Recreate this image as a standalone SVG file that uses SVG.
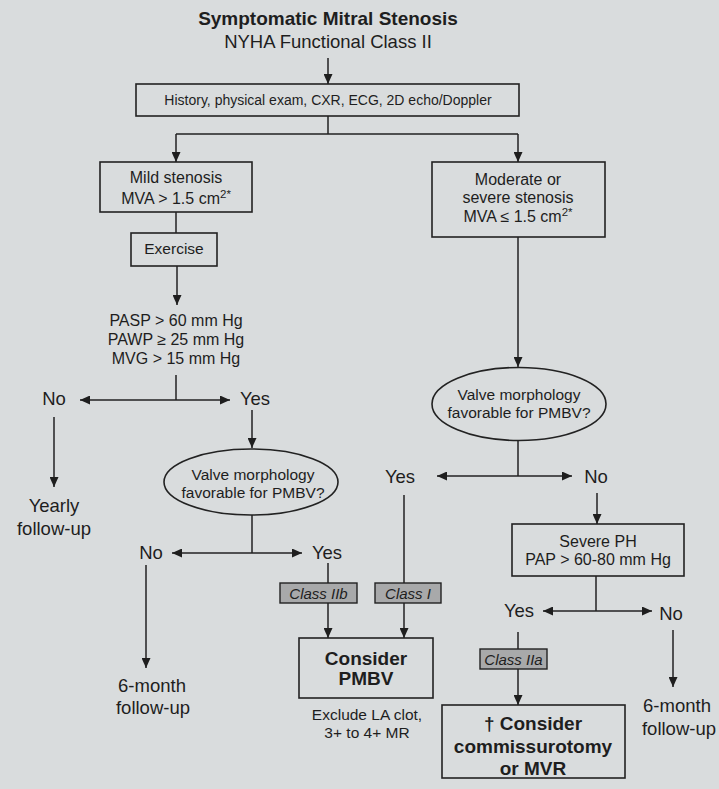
<svg xmlns="http://www.w3.org/2000/svg" width="719" height="789" viewBox="0 0 719 789">
  <defs>
    <marker id="arrow" markerUnits="userSpaceOnUse" markerWidth="10" markerHeight="9" refX="10" refY="4.5" orient="auto">
      <path d="M0,0 L10,4.5 L0,9 z" fill="#1e1e1e"/>
    </marker>
    <style>
      text { font-family: "Liberation Sans", Arial, sans-serif; fill: #1e1e1e; text-anchor: middle; }
      .title { font-size: 19px; font-weight: bold; }
      .sub { font-size: 18.5px; }
      .box { fill: none; stroke: #222; stroke-width: 1.6; }
      .cls { fill: #a8a9aa; stroke: #222; stroke-width: 1.4; }
      .ell { fill: none; stroke: #222; stroke-width: 1.6; }
      .t14 { font-size: 14px; }
      .t15 { font-size: 15.5px; }
      .t16 { font-size: 16px; }
      .lbl { font-size: 18.5px; }
      .big { font-size: 19px; font-weight: bold; }
      .it { font-size: 15px; font-style: italic; }
      .sup { font-size: 11.5px; }
      .conn path { fill: none; stroke: #222; stroke-width: 1.5; }
      .conn path.a { marker-end: url(#arrow); }
    </style>
  </defs>

  <rect width="719" height="789" fill="#d9dcdd"/>

  <!-- heading -->
  <g id="title">
    <text class="title" x="328" y="25">Symptomatic Mitral Stenosis</text>
    <text class="sub" x="328" y="48">NYHA Functional Class II</text>
  </g>

  <g id="workup">
    <rect class="box" x="136" y="84" width="383" height="32"/>
    <text class="t14" x="328" y="105">History, physical exam, CXR, ECG, 2D echo/Doppler</text>
  </g>

  <g id="mild">
    <rect class="box" x="100" y="162" width="152" height="50"/>
    <text class="t16" x="176" y="183">Mild stenosis</text>
    <text class="t16" x="176" y="204">MVA &gt; 1.5 cm<tspan class="sup" dy="-6">2*</tspan></text>
  </g>

  <g id="exercise">
    <rect class="box" x="131" y="233" width="86" height="33"/>
    <text class="t15" x="174" y="254">Exercise</text>
  </g>

  <g id="hemodynamics">
    <text class="t16" x="176" y="326">PASP &gt; 60 mm Hg</text>
    <text class="t16" x="176" y="345">PAWP ≥ 25 mm Hg</text>
    <text class="t16" x="176" y="364">MVG &gt; 15 mm Hg</text>
  </g>

  <g id="moderate">
    <rect class="box" x="432" y="162" width="173" height="75"/>
    <text class="t16" x="518" y="185">Moderate or</text>
    <text class="t16" x="518" y="203">severe stenosis</text>
    <text class="t16" x="518" y="222">MVA ≤ 1.5 cm<tspan class="sup" dy="-6">2*</tspan></text>
  </g>

  <g id="morph-left">
    <ellipse class="ell" cx="251" cy="482" rx="87" ry="33"/>
    <text class="t15" x="253" y="480">Valve morphology</text>
    <text class="t15" x="253" y="498">favorable for PMBV?</text>
  </g>

  <g id="morph-right">
    <ellipse class="ell" cx="519" cy="404" rx="87" ry="36.5"/>
    <text class="t15" x="519" y="400">Valve morphology</text>
    <text class="t15" x="519" y="418">favorable for PMBV?</text>
  </g>

  <g id="severe-ph">
    <rect class="box" x="512" y="524" width="172" height="52"/>
    <text class="t16" x="598" y="547">Severe PH</text>
    <text class="t16" x="598" y="565">PAP &gt; 60-80 mm Hg</text>
  </g>

  <g id="class-iib">
    <rect class="cls" x="280" y="583" width="77" height="20"/>
    <text class="it" x="318.5" y="599">Class IIb</text>
  </g>

  <g id="class-i">
    <rect class="cls" x="375" y="583" width="66" height="20"/>
    <text class="it" x="408" y="599">Class I</text>
  </g>

  <g id="class-iia">
    <rect class="cls" x="480" y="649" width="67" height="20"/>
    <text class="it" x="513.5" y="665">Class IIa</text>
  </g>

  <g id="pmbv">
    <rect class="box" x="299" y="638" width="134" height="60"/>
    <text class="big" x="366" y="665">Consider</text>
    <text class="big" x="366" y="685">PMBV</text>
    <text class="t15" x="367" y="720">Exclude LA clot,</text>
    <text class="t15" x="367" y="738">3+ to 4+ MR</text>
  </g>

  <g id="surgery">
    <rect class="box" x="442" y="705" width="183" height="73"/>
    <text class="big" x="533" y="730">† Consider</text>
    <text class="big" x="533" y="753">commissurotomy</text>
    <text class="big" x="533" y="775">or MVR</text>
  </g>

  <!-- branch labels and outcomes -->
  <g id="labels">
    <text class="lbl" x="54" y="405">No</text>
    <text class="lbl" x="255" y="405">Yes</text>
    <text class="lbl" x="54" y="512">Yearly</text>
    <text class="lbl" x="54" y="535">follow-up</text>
    <text class="lbl" x="151" y="559">No</text>
    <text class="lbl" x="327" y="559">Yes</text>
    <text class="lbl" x="152" y="692">6-month</text>
    <text class="lbl" x="153" y="714">follow-up</text>
    <text class="lbl" x="400" y="483">Yes</text>
    <text class="lbl" x="596" y="483">No</text>
    <text class="lbl" x="519" y="617">Yes</text>
    <text class="lbl" x="671" y="620">No</text>
    <text class="lbl" x="677" y="712">6-month</text>
    <text class="lbl" x="679" y="735">follow-up</text>
  </g>

  <g id="connectors" class="conn">
    <path class="a" d="M328,58 V84"/>
    <path d="M328,116 V134 M176,134 H518"/>
    <path class="a" d="M176,134 V162"/>
    <path class="a" d="M518,134 V162"/>
    <path d="M176,212 V233"/>
    <path class="a" d="M177,266 V305"/>
    <path d="M176,375 V400"/>
    <path class="a" d="M176,400 H80"/>
    <path class="a" d="M176,400 H230"/>
    <path class="a" d="M54,417 V487"/>
    <path class="a" d="M252,410 V448"/>
    <path d="M252,515 V553"/>
    <path class="a" d="M252,553 H172"/>
    <path class="a" d="M252,553 H302"/>
    <path class="a" d="M146,565 V668"/>
    <path d="M328,563 V583"/>
    <path class="a" d="M328,603 V638"/>
    <path class="a" d="M518,237 V367"/>
    <path d="M518,440 V476"/>
    <path class="a" d="M518,476 H437"/>
    <path class="a" d="M518,476 H572"/>
    <path d="M404,495 V583"/>
    <path class="a" d="M404,603 V638"/>
    <path class="a" d="M597,493 V524"/>
    <path d="M596,576 V611"/>
    <path class="a" d="M596,611 H543"/>
    <path class="a" d="M596,611 H652"/>
    <path d="M518,632 V649"/>
    <path class="a" d="M518,669 V705"/>
    <path class="a" d="M673,630 V687"/>
  </g>
</svg>
